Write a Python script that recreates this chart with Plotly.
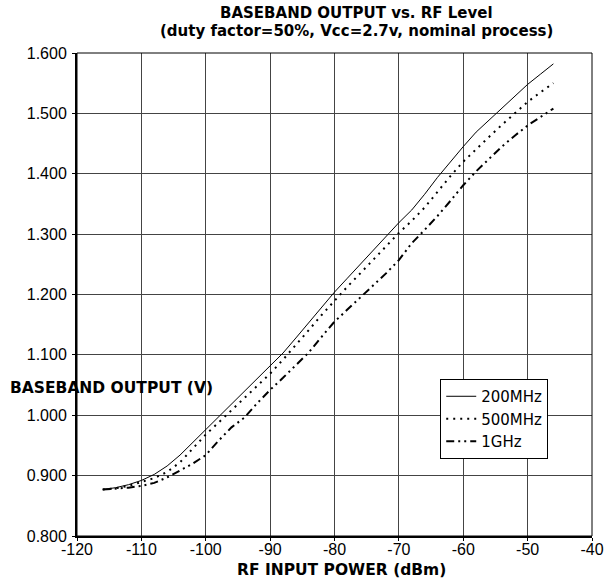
import plotly.graph_objects as go

x_dbm = [-116, -114, -112, -110, -108, -106, -104, -102, -100, -98, -96, -94,
         -92, -90, -88, -86, -84, -82, -80, -78, -76, -74, -72, -70,
         -68, -66, -64, -62, -60, -58, -56, -54, -52, -50, -48, -46]

v_200mhz = [0.877, 0.880, 0.885, 0.892, 0.902, 0.916, 0.934, 0.955, 0.977, 0.998, 1.019, 1.040,
            1.061, 1.082, 1.103, 1.128, 1.153, 1.179, 1.204, 1.227, 1.250, 1.273, 1.296, 1.319,
            1.340, 1.366, 1.394, 1.420, 1.445, 1.469, 1.489, 1.509, 1.529, 1.548, 1.565, 1.582]

v_500mhz = [0.877, 0.879, 0.883, 0.889, 0.896, 0.906, 0.922, 0.945, 0.968, 0.988, 1.008, 1.028,
            1.048, 1.069, 1.092, 1.116, 1.141, 1.166, 1.190, 1.213, 1.235, 1.257, 1.280, 1.302,
            1.322, 1.344, 1.370, 1.396, 1.420, 1.441, 1.461, 1.481, 1.500, 1.519, 1.535, 1.550]

v_1ghz = [0.877, 0.878, 0.880, 0.883, 0.888, 0.897, 0.908, 0.920, 0.934, 0.958, 0.980, 0.996,
          1.020, 1.042, 1.062, 1.083, 1.104, 1.130, 1.155, 1.175, 1.195, 1.215, 1.235, 1.257,
          1.285, 1.307, 1.330, 1.355, 1.381, 1.404, 1.425, 1.445, 1.463, 1.480, 1.494, 1.508]

series_names = ["200MHz", "500MHz", "1GHz"]
x_ticks = [-120, -110, -100, -90, -80, -70, -60, -50, -40]
x_tick_text = ["-120", "-110", "-100", "-90", "-80", "-70", "-60", "-50", "-40"]
y_ticks = [0.8, 0.9, 1.0, 1.1, 1.2, 1.3, 1.4, 1.5, 1.6]
y_tick_text = ["0.800", "0.900", "1.000", "1.100", "1.200", "1.300", "1.400", "1.500", "1.600"]

TICK_FONT = "Liberation Sans, Arial, sans-serif"
TEXT_FONT = "DejaVu Sans, Verdana, sans-serif"
BOLD = dict(family=TEXT_FONT, size=15.5, color="black")
TITLE = dict(family=TEXT_FONT, size=15, color="black")

fig = go.Figure()
fig.add_trace(go.Scatter(x=x_dbm, y=v_200mhz, mode="lines", name=series_names[0],
                         line=dict(color="black", width=1)))
fig.add_trace(go.Scatter(x=x_dbm, y=v_500mhz, mode="lines", name=series_names[1],
                         line=dict(color="black", width=2, dash="2px,5px")))
fig.add_trace(go.Scatter(x=x_dbm, y=v_1ghz, mode="lines", name=series_names[2],
                         line=dict(color="black", width=2, dash="8px,4px,2px,4px,2px,4px")))

fig.update_layout(
    width=616, height=582,
    margin=dict(l=77, r=13, t=53, b=46),
    paper_bgcolor="white", plot_bgcolor="white",
    font=dict(family=TICK_FONT, size=16, color="black"),
    showlegend=True,
    legend=dict(x=0.7053, y=0.325, xanchor="left", yanchor="top",
                bgcolor="white", bordercolor="black", borderwidth=1,
                font=dict(family=TEXT_FONT, size=15), tracegroupgap=0, itemwidth=30),
    xaxis=dict(range=[-120, -40], tickvals=x_ticks, ticktext=x_tick_text,
               ticks="outside", ticklen=3, ticklabelstandoff=-5,
               tickcolor="black", showgrid=True, gridcolor="#444", gridwidth=1,
               showline=True, linecolor="black", linewidth=1.5, zeroline=False,
               tickfont=dict(family=TICK_FONT, size=16)),
    yaxis=dict(range=[0.8, 1.6], tickvals=y_ticks, ticktext=y_tick_text,
               ticks="outside", ticklen=3, ticklabelstandoff=2,
               tickcolor="black", showgrid=True, gridcolor="#444", gridwidth=1,
               showline=True, linecolor="black", linewidth=2, zeroline=False,
               tickfont=dict(family=TICK_FONT, size=16)),
    shapes=[dict(type="rect", xref="paper", yref="paper", x0=0, x1=1, y0=0, y1=1,
                 line=dict(color="black", width=1), layer="above")],
    annotations=[
        dict(text="<b>BASEBAND OUTPUT vs. RF Level</b>", xref="paper", yref="paper",
             x=0.542, y=1.0818, xanchor="center", yanchor="middle", showarrow=False,
             font=TITLE),
        dict(text="<b>(duty factor=50%, Vcc=2.7v, nominal process)</b>", xref="paper", yref="paper",
             x=0.542, y=1.0455, xanchor="center", yanchor="middle", showarrow=False,
             font=TITLE),
        dict(text="<b>BASEBAND OUTPUT (V)</b>", xref="paper", yref="paper",
             x=0.0665, y=0.3064, xanchor="center", yanchor="middle", showarrow=False,
             font=BOLD),
        dict(text="<b>RF INPUT POWER (dBm)</b>", xref="paper", yref="paper",
             x=0.514, y=-0.0704, xanchor="center", yanchor="middle", showarrow=False,
             font=BOLD),
    ],
)

fig.write_html("out.html", config={"displayModeBar": False},
               post_script="document.body.style.margin='0';")
